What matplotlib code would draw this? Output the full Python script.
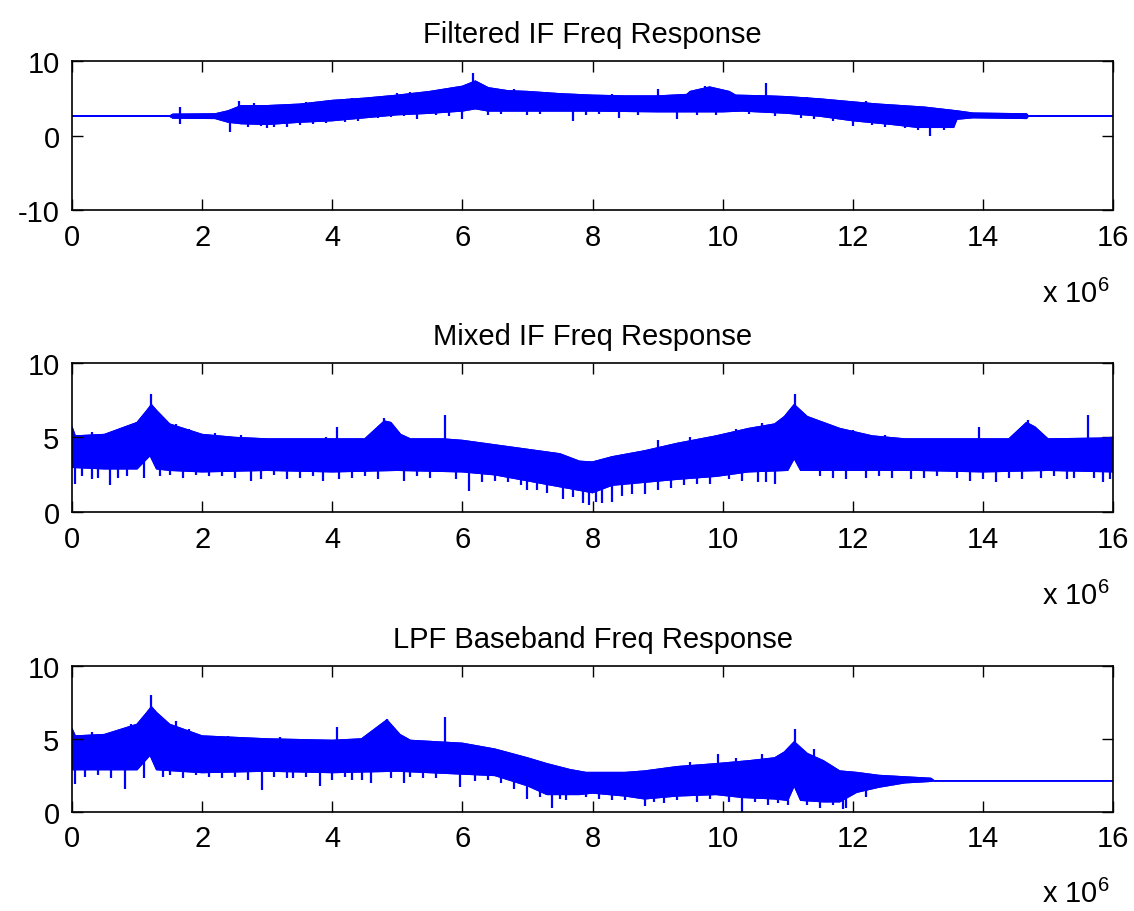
import matplotlib
matplotlib.use("Agg")
import matplotlib.pyplot as plt

plt.rcParams["font.family"] = ["Liberation Sans", "DejaVu Sans"]
plt.rcParams["mathtext.default"] = "regular"
plt.rcParams["axes.unicode_minus"] = False

# Frequency axis values are in units of 1e6
titles = ["Filtered IF Freq Response", "Mixed IF Freq Response", "LPF Baseband Freq Response"]
ylims = [(-10, 10), (0, 10), (0, 10)]
yticks = [[-10, 0, 10], [0, 5, 10], [0, 5, 10]]
xticks = [0, 2, 4, 6, 8, 10, 12, 14, 16]

# --- Filtered IF: envelope of the noisy magnitude band
filt_up_x = [0, 1.5, 1.55, 2.2, 2.4, 2.6, 3.0, 3.5, 4.0, 4.5, 5.0, 5.5, 6.0, 6.2, 6.4, 6.7, 7.0,
             7.5, 8.0, 8.5, 9.0, 9.45, 9.5, 9.8, 10.1, 10.2, 10.7, 11.0, 11.5, 12.0, 12.4, 13.1,
             13.6, 13.85, 14.67, 14.7, 16]
filt_up_y = [2.6, 2.6, 2.85, 2.9, 3.3, 4.0, 4.0, 4.2, 4.7, 5.0, 5.4, 5.9, 6.6, 7.3, 6.4, 6.0, 5.9,
             5.6, 5.4, 5.3, 5.3, 5.5, 5.9, 6.5, 5.9, 5.4, 5.3, 5.2, 4.9, 4.5, 4.2, 3.8,
             3.3, 3.0, 2.9, 2.6, 2.6]
filt_lo_x = [0, 1.5, 1.55, 2.2, 2.4, 2.6, 3.0, 3.5, 4.0, 4.5, 5.0, 5.5, 6.0, 6.2, 6.4, 7.0, 8.0,
             9.0, 10.0, 10.3, 11.0, 11.5, 12.0, 12.6, 13.0, 13.55, 13.6, 13.85, 14.67, 14.7, 16]
filt_lo_y = [2.6, 2.6, 2.35, 2.3, 1.8, 1.6, 1.5, 1.8, 2.0, 2.4, 2.8, 3.0, 3.3, 3.6, 3.3, 3.3, 3.3,
             3.2, 3.2, 3.3, 3.0, 2.6, 2.0, 1.5, 1.1, 1.1, 2.2, 2.4, 2.3, 2.6, 2.6]
# isolated spikes: x, bottom, top
filt_spk_x = [1.66, 2.43, 2.56, 3.0, 3.3, 4.7, 5.3, 6.0, 6.17, 7.7, 8.4, 9.0, 9.3, 9.73, 10.67,
              12.0, 12.3, 13.19,
              2.7, 2.9, 3.1, 3.5, 3.7, 3.9, 4.2, 4.4, 4.9, 5.1, 5.6, 5.8, 6.4, 6.6, 7.0, 7.2,
              7.9, 8.1, 8.7, 9.6, 9.9, 10.4, 10.8, 11.2, 11.4, 11.7, 12.5, 12.8, 13.0, 13.4,
              2.8, 3.6, 4.3, 5.0, 5.2, 5.6, 6.8, 7.3, 8.3, 11.3, 12.2]
filt_spk_lo = [1.5, 0.5, 2.0, 1.0, 1.2, 2.4, 2.2, 2.2, 4.0, 2.0, 2.3, 4.0, 2.2, 4.5, 4.0,
               1.3, 1.4, 0.0,
               1.2, 1.3, 1.2, 1.4, 1.6, 1.7, 1.8, 2.0, 2.5, 2.6, 2.7, 2.6, 2.7, 2.9, 2.8, 2.9,
               2.7, 2.9, 2.8, 2.8, 2.7, 2.9, 2.6, 2.4, 2.2, 1.9, 1.2, 1.0, 0.8, 0.7,
               3.5, 3.8, 4.5, 5.0, 5.2, 5.5, 5.5, 5.3, 5.0, 4.8, 4.2]
filt_spk_hi = [3.8, 2.5, 4.7, 2.0, 2.0, 3.0, 3.0, 3.5, 8.4, 3.5, 3.5, 6.3, 3.5, 6.7, 7.0,
               2.5, 2.5, 1.5,
               2.0, 2.0, 2.0, 2.2, 2.3, 2.5, 2.6, 2.8, 3.2, 3.3, 3.4, 3.4, 3.6, 3.6, 3.6, 3.6,
               3.6, 3.6, 3.6, 3.6, 3.6, 3.6, 3.4, 3.2, 3.0, 2.8, 2.0, 1.8, 1.6, 1.6,
               4.3, 4.5, 5.0, 5.7, 5.8, 6.1, 6.2, 5.9, 5.6, 5.2, 4.7]

# --- Mixed IF
mix_up_x = [0, 0.05, 0.5, 1.0, 1.15, 1.22, 1.3, 1.5, 2.0, 2.5, 3.0, 4.5, 4.6, 4.8, 4.9, 5.05,
            5.2, 5.7, 6.0, 6.5, 7.0, 7.5, 7.8, 8.0, 8.3, 8.8, 9.3, 9.9, 10.4, 10.8, 10.95, 11.1,
            11.3, 11.8, 12.3, 12.8, 14.4, 14.67, 14.8, 15.0, 15.8, 16]
mix_up_y = [5.7, 5.1, 5.2, 6.0, 6.8, 7.2, 6.8, 5.9, 5.2, 5.0, 4.9, 4.9, 5.3, 6.1, 6.0, 5.2,
            4.9, 4.9, 4.8, 4.5, 4.2, 3.9, 3.4, 3.35, 3.7, 4.1, 4.6, 5.1, 5.6, 5.9, 6.4, 7.2,
            6.4, 5.6, 5.1, 4.9, 4.9, 6.0, 5.7, 4.9, 4.95, 5.0]
mix_lo_x = [0, 0.5, 1.0, 1.2, 1.3, 1.5, 2.0, 3.0, 4.0, 5.0, 6.0, 6.5, 7.0, 7.5, 8.0, 8.3, 8.8,
            9.3, 9.9, 10.4, 11.0, 11.1, 11.2, 12.0, 13.0, 14.0, 15.0, 16]
mix_lo_y = [3.0, 2.9, 2.9, 3.8, 2.9, 2.8, 2.7, 2.8, 2.7, 2.8, 2.7, 2.5, 2.1, 1.7, 1.3, 1.8, 2.0,
            2.2, 2.4, 2.7, 2.8, 3.6, 2.8, 2.8, 2.8, 2.7, 2.8, 2.7]
mix_spk_x = [0.05, 0.3, 0.58, 1.1, 1.22, 1.5, 2.1, 2.75, 3.3, 3.85, 4.07, 4.3, 4.8, 5.1, 5.5,
             5.73, 6.1, 6.7, 7.0, 7.3, 7.55, 7.85, 7.95, 8.15, 8.3, 8.8, 9.2, 9.6, 10.1, 10.55,
             10.67, 11.11, 11.5, 12.2, 12.9, 13.6, 13.94, 14.2, 14.7, 14.9, 15.4, 15.62, 15.95,
             0.15, 0.4, 0.7, 0.85, 1.35, 1.7, 1.9, 2.3, 2.5, 2.9, 3.1, 3.5, 3.7, 4.1, 4.5, 4.7,
             5.3, 5.9, 6.3, 6.5, 6.9, 7.15, 7.7, 8.05, 8.45, 8.6, 9.0, 9.4, 9.8, 10.3, 10.8,
             11.7, 11.9, 12.4, 12.6, 13.1, 13.3, 13.8, 14.0, 14.4, 14.6, 15.1, 15.3, 15.7, 15.85,
             0.3, 0.7, 0.9, 1.6, 1.8, 2.2, 2.6, 3.9, 9.0, 9.5, 10.2, 10.6, 11.5, 12.0, 12.5]
mix_spk_lo = [1.9, 2.2, 1.8, 2.3, 5.0, 2.5, 2.4, 2.1, 2.2, 2.1, 4.0, 2.3, 5.0, 2.1, 2.3,
              4.0, 1.4, 2.0, 1.5, 1.3, 0.9, 0.6, 0.5, 0.6, 0.7, 1.2, 1.6, 1.9, 2.2, 2.0,
              2.0, 5.0, 2.4, 2.3, 2.2, 2.3, 4.0, 2.0, 5.0, 2.3, 2.3, 4.0, 2.2,
              2.4, 2.3, 2.3, 2.4, 2.4, 2.3, 2.5, 2.4, 2.3, 2.2, 2.5, 2.3, 2.4, 2.2, 2.4, 2.2,
              2.4, 2.2, 2.0, 2.1, 1.8, 1.5, 1.0, 0.7, 1.1, 1.2, 1.5, 1.8, 1.9, 2.1, 1.9,
              2.3, 2.2, 2.4, 2.3, 2.3, 2.4, 2.1, 2.2, 2.3, 2.2, 2.4, 2.2, 2.3, 2.0,
              4.8, 4.8, 5.0, 5.2, 5.0, 4.8, 4.6, 4.5, 4.2, 4.6, 5.0, 5.4, 5.6, 5.0, 4.7]
mix_spk_hi = [3.5, 3.5, 3.5, 3.5, 7.9, 3.5, 3.5, 3.5, 3.5, 3.5, 5.7, 3.5, 6.3, 3.5, 3.5,
              6.5, 3.5, 3.0, 3.0, 3.0, 2.5, 2.5, 2.0, 2.0, 2.5, 2.5, 3.0, 3.0, 3.5, 3.5,
              3.5, 7.9, 3.5, 3.5, 3.5, 3.5, 5.7, 3.5, 6.2, 3.5, 3.5, 6.5, 3.5,
              3.2, 3.2, 3.2, 3.2, 3.2, 3.2, 3.2, 3.2, 3.2, 3.2, 3.2, 3.2, 3.2, 3.2, 3.2, 3.2,
              3.2, 3.2, 3.0, 3.0, 2.8, 2.5, 2.0, 1.8, 2.2, 2.2, 2.5, 2.6, 2.8, 3.0, 3.0,
              3.2, 3.2, 3.2, 3.2, 3.2, 3.2, 3.2, 3.2, 3.2, 3.2, 3.2, 3.2, 3.2, 3.2,
              5.4, 5.5, 5.8, 5.9, 5.6, 5.3, 5.2, 5.0, 4.8, 5.0, 5.6, 6.0, 6.1, 5.5, 5.2]

# --- LPF baseband
lpf_up_x = [0, 0.05, 0.5, 1.0, 1.15, 1.22, 1.3, 1.5, 2.0, 3.0, 4.0, 4.45, 4.84, 5.04, 5.2, 6.0,
            6.5, 7.0, 7.3, 7.65, 7.9, 8.5, 8.8, 9.3, 9.9, 10.4, 10.8, 10.95, 11.1, 11.3, 11.55,
            11.8, 12.06, 12.4, 12.8, 13.2, 13.25, 16]
lpf_up_y = [5.7, 5.2, 5.3, 6.0, 6.8, 7.2, 6.8, 6.0, 5.2, 5.0, 4.9, 5.0, 6.3, 5.3, 4.9, 4.7,
            4.3, 3.7, 3.3, 2.9, 2.7, 2.7, 2.8, 3.1, 3.3, 3.5, 3.7, 4.1, 4.8, 4.0, 3.5,
            2.8, 2.7, 2.5, 2.4, 2.3, 2.14, 2.14]
lpf_lo_x = [0, 1.0, 1.2, 1.3, 2.0, 3.0, 4.0, 5.0, 6.0, 6.5, 7.0, 7.3, 7.8, 8.0, 8.5, 8.8, 9.3,
            9.9, 10.3, 10.8, 11.0, 11.1, 11.2, 11.55, 11.8, 12.06, 12.4, 12.8, 13.2, 13.25, 16]
lpf_lo_y = [2.9, 2.9, 3.9, 2.9, 2.7, 2.8, 2.7, 2.8, 2.6, 2.5, 1.8, 1.2, 1.2, 1.3, 1.1, 0.9, 1.1,
            1.2, 1.0, 0.9, 0.8, 1.8, 0.8, 0.7, 0.7, 1.35, 1.7, 2.0, 2.1, 2.14, 2.14]
lpf_spk_x = [0.05, 0.81, 1.1, 1.22, 1.5, 2.1, 2.92, 3.4, 3.81, 4.07, 4.3, 4.6, 4.84, 5.1, 5.4,
             5.73, 5.96, 6.6, 7.0, 7.37, 7.6, 8.3, 8.8, 9.1, 9.6, 9.93, 10.29, 10.7, 11.0, 11.11,
             11.5, 11.85, 11.9,
             0.2, 0.4, 0.6, 1.4, 1.7, 1.9, 2.3, 2.5, 2.7, 3.1, 3.3, 3.6, 4.0, 4.2, 4.45, 4.9,
             5.2, 5.6, 6.2, 6.4, 6.8, 7.2, 7.5, 7.9, 8.1, 8.5, 8.95, 9.3, 9.8, 10.1, 10.5,
             10.85, 11.3, 11.7, 12.2,
             0.3, 0.7, 0.9, 1.6, 1.8, 2.4, 3.2, 9.5, 10.2, 10.6, 11.4]
lpf_spk_lo = [1.9, 1.6, 2.3, 5.0, 2.5, 2.4, 1.5, 2.3, 1.8, 4.0, 2.2, 2.0, 5.0, 2.0, 2.3,
              4.0, 1.7, 2.0, 0.9, 0.3, 0.8, 0.8, 0.4, 0.6, 0.7, 3.0, 0.0, 0.5, 0.5, 3.5,
              0.3, 0.2, 0.3,
              2.4, 2.5, 2.3, 2.4, 2.3, 2.5, 2.3, 2.4, 2.2, 2.4, 2.3, 2.4, 2.2, 2.4, 2.2, 2.3,
              2.4, 2.3, 2.1, 2.2, 1.6, 1.0, 0.9, 1.0, 0.9, 0.8, 0.7, 0.8, 0.9, 0.7, 0.7,
              0.6, 0.5, 0.5, 1.0,
              4.9, 5.0, 5.4, 5.6, 5.2, 4.8, 4.7, 3.0, 3.3, 3.6, 3.8]
lpf_spk_hi = [3.5, 3.5, 3.5, 8.0, 3.5, 3.5, 3.5, 3.5, 3.5, 5.8, 3.5, 3.5, 6.4, 3.5, 3.5,
              6.5, 3.0, 3.0, 2.5, 2.0, 2.0, 2.0, 1.5, 1.5, 1.5, 4.0, 1.5, 1.5, 1.5, 5.7,
              1.5, 1.5, 1.5,
              3.2, 3.2, 3.2, 3.2, 3.2, 3.2, 3.2, 3.2, 3.2, 3.2, 3.2, 3.2, 3.2, 3.2, 3.2, 3.2,
              3.2, 3.2, 3.0, 3.0, 2.5, 1.8, 1.6, 1.6, 1.6, 1.5, 1.4, 1.5, 1.6, 1.5, 1.4,
              1.4, 1.4, 1.4, 1.8,
              5.5, 5.6, 6.0, 6.2, 5.7, 5.2, 5.1, 3.4, 3.7, 4.0, 4.3]

panels = [
    (filt_up_x, filt_up_y, filt_lo_x, filt_lo_y, filt_spk_x, filt_spk_lo, filt_spk_hi),
    (mix_up_x, mix_up_y, mix_lo_x, mix_lo_y, mix_spk_x, mix_spk_lo, mix_spk_hi),
    (lpf_up_x, lpf_up_y, lpf_lo_x, lpf_lo_y, lpf_spk_x, lpf_spk_lo, lpf_spk_hi),
]

blue = (0, 0, 1)
fig = plt.figure(figsize=(11.34, 9.12), dpi=100)
boxes = [(0.0635, 0.7686, 0.918, 0.1634),
         (0.0635, 0.4375, 0.918, 0.1634),
         (0.0635, 0.1086, 0.918, 0.1601)]

for i, (ux, uy, lx, ly, sx, slo, shi) in enumerate(panels):
    ax = fig.add_axes(boxes[i])
    # band: upper and lower envelopes as a closed polygon
    poly_x = list(ux) + list(lx)[::-1]
    poly_y = list(uy) + list(ly)[::-1]
    ax.fill(poly_x, poly_y, color=blue, lw=1.0)
    ax.plot(ux, uy, color=blue, lw=1.0)
    ax.plot(lx, ly, color=blue, lw=1.0)
    ax.vlines(sx, slo, shi, color=blue, lw=1.6)

    ax.set_xlim(0, 16)
    ax.set_ylim(*ylims[i])
    ax.set_xticks(xticks)
    ax.set_yticks(yticks[i])
    ax.tick_params(direction="in", length=8, width=1, top=True, right=True,
                   labelsize=21, pad=9)
    for sp in ax.spines.values():
        sp.set_linewidth(1.2)
    ax.set_title(titles[i], fontsize=21, pad=14)
    ax.text(0.997, -0.617, r"x 10$^{6}$", transform=ax.transAxes,
            ha="right", va="baseline", fontsize=21)

fig.savefig("out.png", dpi=100)
